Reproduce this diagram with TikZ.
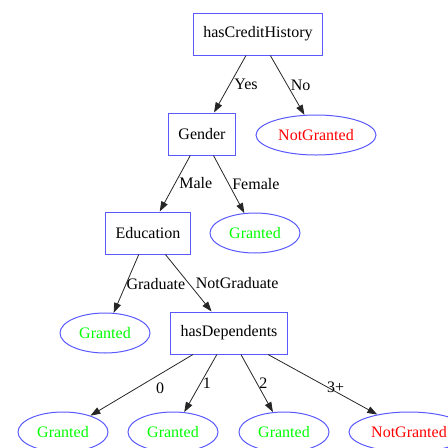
\documentclass[tikz,border=0pt]{standalone}
\usepackage{fontspec}
\setmainfont{Liberation Serif}
\usetikzlibrary{arrows.meta}
\usetikzlibrary{shapes.geometric}
\definecolor{nodeblue}{rgb}{0.35,0.35,1}
\definecolor{yesgreen}{rgb}{0,1,0}
\definecolor{nored}{rgb}{1,0,0}

\begin{document}
\begin{tikzpicture}[x=1pt,y=-1pt,font=\fontsize{16}{19}\selectfont]
      \tikzstyle{box}=[rectangle,draw=nodeblue,line width=1pt,minimum height=42pt,inner xsep=10pt]
      \tikzstyle{leaf}=[ellipse,draw=nodeblue,line width=1pt,minimum height=40pt,inner sep=1pt]
      \tikzstyle{granted}=[leaf,text=yesgreen,minimum width=90pt]
      \tikzstyle{denied}=[leaf,text=nored,minimum width=120pt]
      \tikzstyle{branch}=[-{Triangle[length=10pt,width=7pt]},line width=0.8pt,draw=black!85]
      \tikzstyle{choice}=[anchor=west,inner sep=1pt,text=black]
      \useasboundingbox (0,0) rectangle (448,448);
      \node[box] (credit) at (258,34) {hasCreditHistory};
      \node[box] (gender) at (202,134) {Gender};
      \node[denied] (ng1) at (316,135) {NotGranted};
      \node[box] (education) at (148,233) {Education};
      \node[granted] (g1) at (255,233) {Granted};
      \node[granted] (g2) at (105,333) {Granted};
      \node[box] (dependents) at (229,333) {hasDependents};
      \node[granted] (g3) at (63,432) {Granted};
      \node[granted] (g4) at (173,432) {Granted};
      \node[granted] (g5) at (284,432) {Granted};
      \node[denied] (ng2) at (409,432) {NotGranted};
      \draw[branch] (credit) to node[choice,xshift=3pt] {Yes} (gender);
      \draw[branch] (credit) to node[choice,xshift=2pt] {No} (ng1);
      \draw[branch] (gender) to node[choice,xshift=3pt] {Male} (education);
      \draw[branch] (gender) to node[choice,xshift=2pt] {Female} (g1);
      \draw[branch] (education) to node[choice,xshift=-1pt] {Graduate} (g2);
      \draw[branch] (education) to node[choice,xshift=6pt] {NotGraduate} (dependents);
      \draw[branch] (dependents) to node[choice,xshift=13pt,yshift=-3pt] {0} (g3);
      \draw[branch] (dependents) to node[choice,xshift=1pt] {1} (g4);
      \draw[branch] (dependents) to node[choice,xshift=1pt] {2} (g5);
      \draw[branch] (dependents) to node[choice,xshift=3pt,yshift=-3pt] {3+} (ng2);
\end{tikzpicture}
\end{document}
